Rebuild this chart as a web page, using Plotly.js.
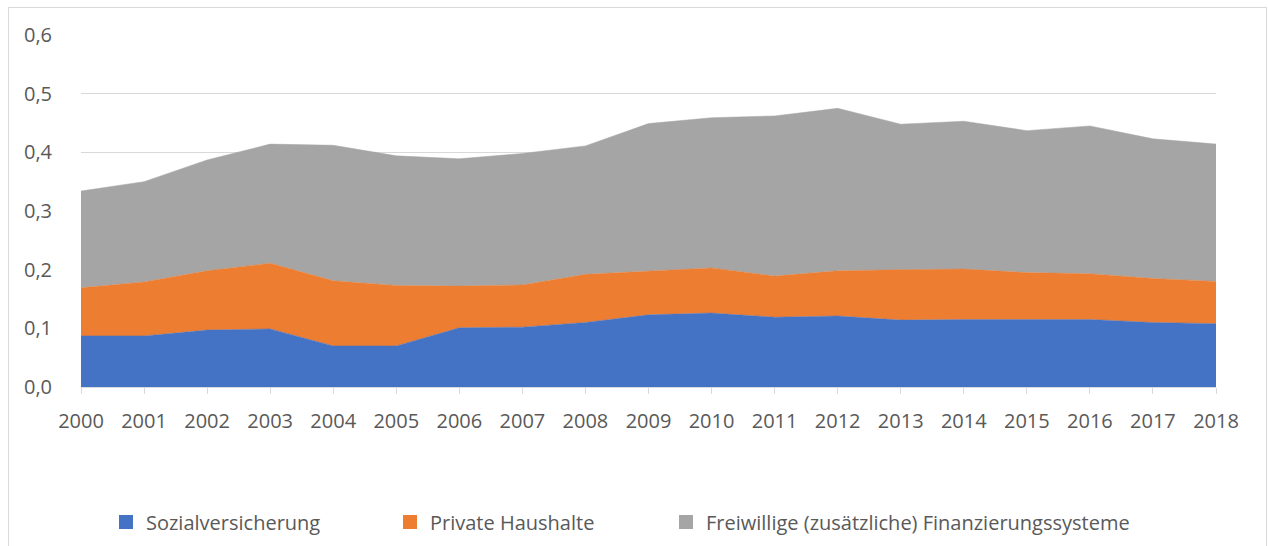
<!DOCTYPE html>
<html>
<head>
<meta charset="utf-8">
<script src="https://cdn.plot.ly/plotly-3.0.1.min.js"></script>
<style>
  html, body { margin: 0; padding: 0; background: #fff; overflow: hidden; }
  #frame { position: absolute; left: 8px; top: 7px; width: 1259px; height: 600px; border: 1px solid #d9d9d9; box-sizing: border-box; }
  #chart { position: absolute; left: 0; top: 0; width: 1268px; height: 546px; }
</style>
</head>
<body>
<div id="frame"></div>
<div id="chart"></div>
<script>
// Jahre und Anteile (gestapelt)
const years = ['2000','2001','2002','2003','2004','2005','2006','2007','2008','2009',
               '2010','2011','2012','2013','2014','2015','2016','2017','2018']

const sozialversicherung = [0.087, 0.087, 0.097, 0.099, 0.070, 0.070, 0.101, 0.102, 0.110, 0.123,
                            0.126, 0.119, 0.121, 0.114, 0.115, 0.115, 0.115, 0.110, 0.108]
const privateHaushalte = [0.082, 0.092, 0.101, 0.112, 0.111, 0.103, 0.071, 0.072, 0.082, 0.075,
                          0.077, 0.070, 0.077, 0.086, 0.086, 0.080, 0.078, 0.075, 0.072]
const freiwillige = [0.165, 0.171, 0.189, 0.203, 0.231, 0.221, 0.217, 0.224, 0.219, 0.251,
                     0.256, 0.273, 0.277, 0.248, 0.252, 0.242, 0.252, 0.238, 0.234]

const seriesNames = ['Sozialversicherung', 'Private Haushalte', 'Freiwillige (zusätzliche) Finanzierungssysteme']
const seriesColors = ['#4472C4', '#ED7D31', '#A5A5A5']
const legendIds = ['legend', 'legend2', 'legend3']

const traces = []
;[sozialversicherung, privateHaushalte, freiwillige].forEach((vals, i) => {
    traces.push({
        x: years,
        y: vals,
        type: 'scatter',
        mode: 'lines',
        stackgroup: 'one',
        name: seriesNames[i],
        fillcolor: seriesColors[i],
        line: { color: seriesColors[i], width: 0.5 },
        showlegend: false
    })
})
// legend entries as square markers, one legend box each (like Excel's spacing)
seriesNames.forEach((name, i) => {
    traces.push({
        x: [null],
        y: [null],
        type: 'scatter',
        mode: 'markers',
        name: name,
        marker: { symbol: 'square', size: 14, color: seriesColors[i] },
        legend: legendIds[i],
        showlegend: true
    })
})

const font = { family: 'Open Sans, Noto Sans, sans-serif', size: 20, color: '#595959' }
const legendLeft = [106, 390, 666]

const layout = {
    width: 1268,
    height: 546,
    paper_bgcolor: 'rgba(0,0,0,0)',
    plot_bgcolor: 'rgba(0,0,0,0)',
    separators: ',.',
    font: font,
    showlegend: true,
    margin: { l: 81, r: 52, t: 35, b: 159 },
    xaxis: {
        type: 'category',
        range: [0, 18],
        showgrid: false,
        showline: true,
        linecolor: '#d9d9d9',
        linewidth: 1,
        ticks: 'outside',
        ticklen: 6,
        tickcolor: '#d9d9d9',
        ticklabelstandoff: 10,
        tickfont: font,
        zeroline: false,
        automargin: false
    },
    yaxis: {
        range: [0, 0.6],
        dtick: 0.1,
        tickformat: '.1f',
        showgrid: true,
        gridcolor: '#d9d9d9',
        gridwidth: 1,
        zeroline: false,
        showline: false,
        ticks: '',
        ticklabelstandoff: 28,
        tickfont: font,
        automargin: false
    }
}

legendIds.forEach((id, i) => {
    layout[id] = {
        xref: 'container', yref: 'container',
        x: legendLeft[i] / 1268, xanchor: 'left',
        y: 1 - 522 / 546, yanchor: 'middle',
        orientation: 'h',
        font: font,
        bgcolor: 'rgba(0,0,0,0)',
        borderwidth: 0
    }
})

Plotly.newPlot('chart', traces, layout, { displayModeBar: false, staticPlot: true })
</script>
</body>
</html>
